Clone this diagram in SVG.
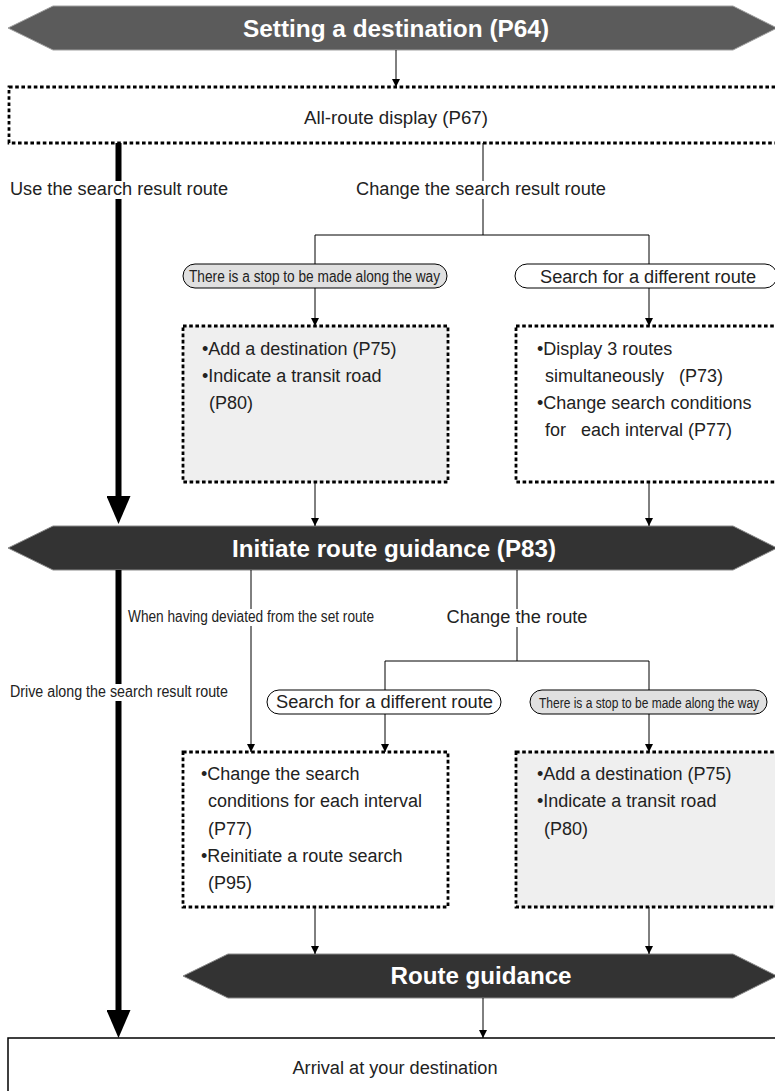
<svg xmlns="http://www.w3.org/2000/svg" width="775" height="1091" viewBox="0 0 775 1091">
<defs>
<style>
.t{font-family:"Liberation Sans",Arial,sans-serif;font-size:18px;fill:#222}
.c{font-family:"Liberation Sans",Arial,sans-serif;font-size:16px;fill:#222}
.p{font-family:"Liberation Sans",Arial,sans-serif;font-size:16px;fill:#222}
.h{font-family:"Liberation Sans",Arial,sans-serif;font-size:24px;font-weight:bold;fill:#fff;text-anchor:middle}
.mid{text-anchor:middle}
.dot{stroke:#000;stroke-width:2.8;stroke-dasharray:3.6 2.6}
.pill{stroke:#000;stroke-width:1}
.ln{stroke:#000;stroke-width:1;fill:none}
.thick{stroke:#000;stroke-width:6;fill:none}
.bg{fill:#fff}
</style>
<marker id="a" markerUnits="userSpaceOnUse" viewBox="0 0 8 8" markerWidth="8" markerHeight="8" refX="8" refY="4" orient="auto"><path d="M0,0 L8,4 L0,8 z" fill="#000"/></marker>
<marker id="big" markerUnits="userSpaceOnUse" viewBox="0 0 28 24" markerWidth="28" markerHeight="24" refX="0" refY="12" orient="auto"><path d="M0,0 L28,12 L0,24 z" fill="#000"/></marker>
</defs>
<rect width="775" height="1091" fill="#fff"/>

<g id="n-setting">
<polygon points="8,28 53,6 733,6 777,28 733,50 53,50" fill="#5b5b5b" stroke="#a0a0a0" stroke-width="1"/>
<text class="h" x="396" y="37" textLength="306" lengthAdjust="spacingAndGlyphs">Setting a destination (P64)</text>
</g>

<g id="n-allroute">
<rect x="9" y="87" width="775" height="56" fill="#fff" class="dot"/>
<text class="t mid" x="396" y="124" textLength="184" lengthAdjust="spacingAndGlyphs">All-route display (P67)</text>
</g>

<g id="n-stop1">
<rect x="183" y="264" width="264" height="24" rx="12" fill="#e0e0e0" class="pill"/>
<text class="p" x="189" y="282" textLength="251" lengthAdjust="spacingAndGlyphs">There is a stop to be made along the way</text>
</g>

<g id="n-diff1">
<rect x="515" y="264" width="262" height="24" rx="12" fill="#fff" class="pill"/>
<text class="t" x="540" y="283" textLength="216" lengthAdjust="spacingAndGlyphs">Search for a different route</text>
</g>

<g id="n-box1">
<rect x="183" y="326" width="265" height="156" fill="#efefef" class="dot"/>
<text class="t" x="202" y="355">•Add a destination (P75)</text>
<text class="t" x="202" y="382">•Indicate a transit road</text>
<text class="t" x="209" y="409">(P80)</text>
</g>

<g id="n-box2">
<rect x="516" y="326" width="265" height="156" fill="#fff" class="dot"/>
<text class="t" x="537" y="355">•Display 3 routes</text>
<text class="t" x="545" y="382" xml:space="preserve">simultaneously   (P73)</text>
<text class="t" x="537" y="409">•Change search conditions</text>
<text class="t" x="545" y="436" xml:space="preserve">for   each interval (P77)</text>
</g>

<g id="n-initiate">
<polygon points="8,548 53,526 733,526 777,548 733,570 53,570" fill="#333" stroke="#8a8a8a" stroke-width="1"/>
<text class="h" x="394" y="557" textLength="324" lengthAdjust="spacingAndGlyphs">Initiate route guidance (P83)</text>
</g>

<g id="n-diff2">
<rect x="267" y="690" width="234" height="24" rx="12" fill="#fff" class="pill"/>
<text class="t" x="276" y="708" textLength="217" lengthAdjust="spacingAndGlyphs">Search for a different route</text>
</g>

<g id="n-stop2">
<rect x="530" y="690" width="237" height="24" rx="12" fill="#e0e0e0" class="pill"/>
<text class="p" x="0" y="0" style="font-size:15px" transform="translate(539,707.5) scale(0.8,1)">There is a stop to be made along the way</text>
</g>

<g id="n-box3">
<rect x="183" y="752" width="265" height="155" fill="#fff" class="dot"/>
<text class="t" x="201" y="780">•Change the search</text>
<text class="t" x="208" y="807">conditions for each interval</text>
<text class="t" x="208" y="835">(P77)</text>
<text class="t" x="201" y="862">•Reinitiate a route search</text>
<text class="t" x="208" y="889">(P95)</text>
</g>

<g id="n-box4">
<rect x="516" y="752" width="265" height="155" fill="#efefef" class="dot"/>
<text class="t" x="537" y="780">•Add a destination (P75)</text>
<text class="t" x="537" y="807">•Indicate a transit road</text>
<text class="t" x="544" y="835">(P80)</text>
</g>

<g id="n-guidance">
<polygon points="183,976 228,954 733,954 777,976 733,998 228,998" fill="#333" stroke="#8a8a8a" stroke-width="1"/>
<text class="h" x="481" y="984" textLength="181" lengthAdjust="spacingAndGlyphs">Route guidance</text>
</g>

<g id="n-arrival">
<rect x="8" y="1038" width="780" height="70" fill="#fff" stroke="#000" stroke-width="1.5"/>
<text class="t mid" x="395" y="1074" textLength="205" lengthAdjust="spacingAndGlyphs">Arrival at your destination</text>
</g>

<g id="connectors">
<line class="ln" x1="396" y1="50" x2="396" y2="87" marker-end="url(#a)"/>
<polyline class="ln" points="483,143 483,235"/>
<polyline class="ln" points="315,264 315,235 649,235 649,264"/>
<line class="ln" x1="315" y1="288" x2="315" y2="326" marker-end="url(#a)"/>
<line class="ln" x1="649" y1="288" x2="649" y2="326" marker-end="url(#a)"/>
<line class="ln" x1="315" y1="482" x2="315" y2="526" marker-end="url(#a)"/>
<line class="ln" x1="649" y1="482" x2="649" y2="526" marker-end="url(#a)"/>
<line class="thick" x1="118.5" y1="143" x2="118.5" y2="496" marker-end="url(#big)"/>
<line class="thick" x1="118.5" y1="570" x2="118.5" y2="1010" marker-end="url(#big)"/>
<line class="ln" x1="251" y1="570" x2="251" y2="752" marker-end="url(#a)"/>
<polyline class="ln" points="517,570 517,661"/>
<polyline class="ln" points="385,690 385,661 649,661 649,690"/>
<line class="ln" x1="385" y1="714" x2="385" y2="752" marker-end="url(#a)"/>
<line class="ln" x1="649" y1="714" x2="649" y2="752" marker-end="url(#a)"/>
<line class="ln" x1="315" y1="907" x2="315" y2="954" marker-end="url(#a)"/>
<line class="ln" x1="649" y1="907" x2="649" y2="954" marker-end="url(#a)"/>
<line class="ln" x1="483" y1="998" x2="483" y2="1038" marker-end="url(#a)"/>
</g>

<g id="labels">
<rect class="bg" x="8" y="181" width="222" height="18"/>
<text class="t" x="10" y="195" textLength="218" lengthAdjust="spacingAndGlyphs">Use the search result route</text>
<rect class="bg" x="354" y="181" width="254" height="18"/>
<text class="t mid" x="481" y="195" textLength="250" lengthAdjust="spacingAndGlyphs">Change the search result route</text>
<rect class="bg" x="126" y="609" width="250" height="17"/>
<text class="c" x="128" y="622" textLength="246" lengthAdjust="spacingAndGlyphs">When having deviated from the set route</text>
<rect class="bg" x="444" y="609" width="146" height="18"/>
<text class="t mid" x="517" y="623" textLength="141" lengthAdjust="spacingAndGlyphs">Change the route</text>
<rect class="bg" x="8" y="684" width="222" height="17"/>
<text class="c" x="10" y="697" textLength="218" lengthAdjust="spacingAndGlyphs">Drive along the search result route</text>
</g>
</svg>
